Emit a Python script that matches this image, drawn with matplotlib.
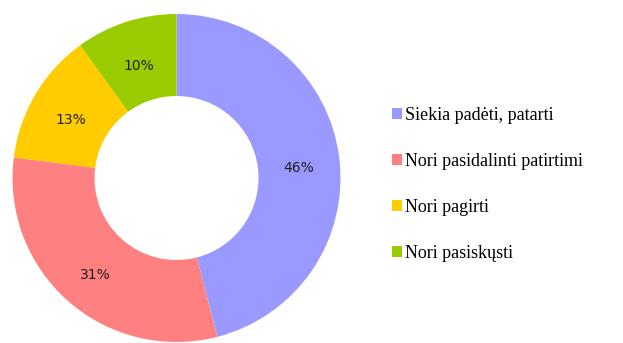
import matplotlib.pyplot as plt

labels = ['Siekia padėti, patarti', 'Nori pasidalinti patirtimi', 'Nori pagirti', 'Nori pasiskųsti']
values = [46, 31, 13, 10]
colors = ['#9999FF', '#FF8080', '#FFCC00', '#99CC00']

fig = plt.figure(figsize=(6.23, 3.43), dpi=100)
ax = fig.add_axes([12/623, 1/343, 329/623, 328/343])

wedges, texts, autotexts = ax.pie(values, colors=colors, startangle=90, counterclock=False,
                                  radius=1.0, autopct='%d%%', pctdistance=0.75,
                                  wedgeprops=dict(width=0.5, edgecolor='none'),
                                  textprops=dict(family='DejaVu Sans', size=10, color='#202020'))
# labels sit a bit lower in the original
for t in autotexts:
    x, y = t.get_position()
    t.set_position((x, y - 0.03))
ax.set_xlim(-1, 1)
ax.set_ylim(-1, 1)
ax.set_aspect('equal')

fig.legend(wedges, labels, loc='upper left', bbox_to_anchor=(392/623, 1 - 107/343),
           frameon=False, handlelength=0.55, handleheight=0.55, handletextpad=0.15,
           labelspacing=1.6, borderaxespad=0, borderpad=0,
           prop=dict(family=['Liberation Serif', 'DejaVu Serif'], size=13))

plt.savefig('out.png', dpi=100)
